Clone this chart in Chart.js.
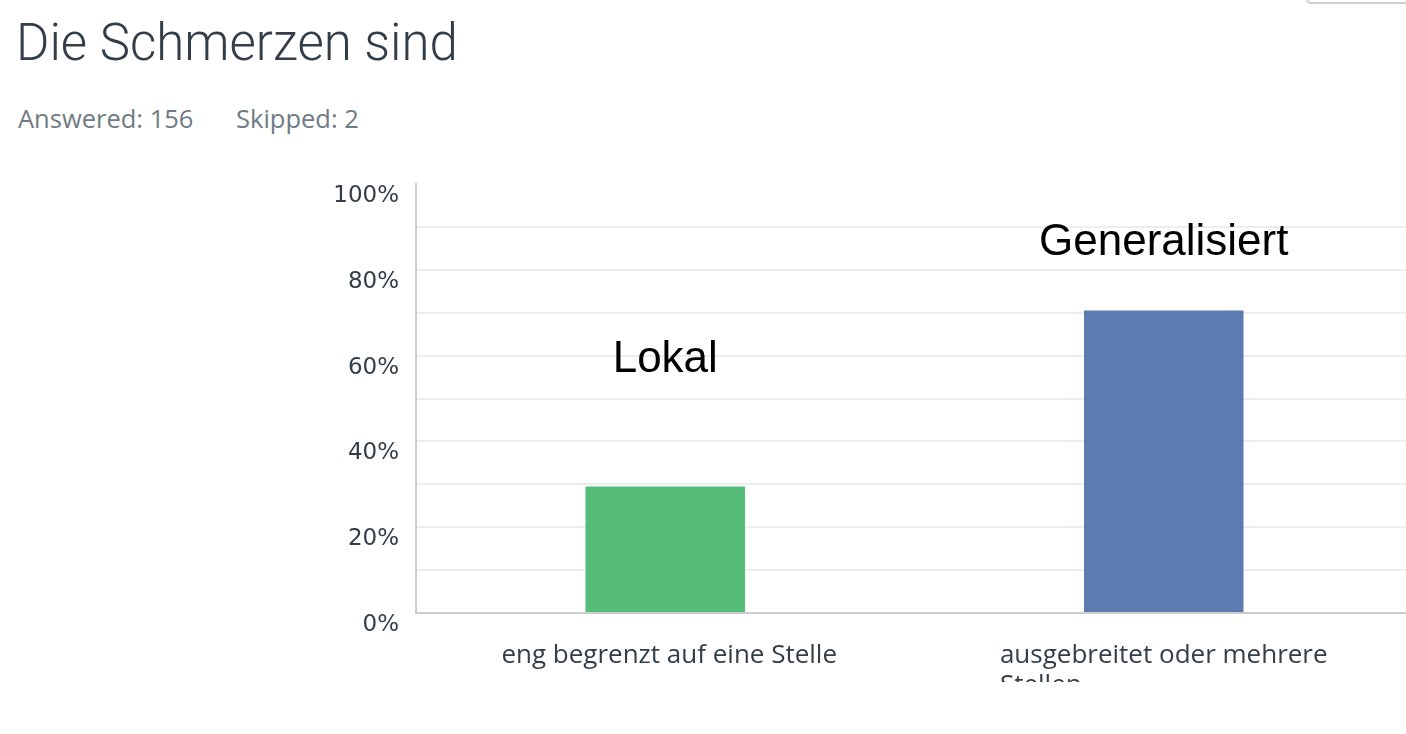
<!DOCTYPE html>
<html lang="de">
<head>
<meta charset="utf-8">
<title>Die Schmerzen sind</title>
<script src="https://cdn.jsdelivr.net/npm/chart.js@4.4.1/dist/chart.umd.min.js"></script>
<style>
  html, body { margin: 0; padding: 0; background: #fff; overflow: hidden; width: 1406px; height: 734px; }
  #title { position: absolute; left: 16px; top: 17px; font: 300 51px/51px Roboto, sans-serif; color: #333e48; white-space: nowrap; }
  .stat { position: absolute; top: 106px; font: 400 25.5px/25px "Open Sans", sans-serif; color: #6f7b83; white-space: nowrap; }
  #btn { position: absolute; left: 1306px; top: -40px; width: 120px; height: 40px; border: 2px solid #cfcfcf; border-radius: 5px; }
  #clip { position: absolute; left: 0; top: 160px; width: 1413px; height: 522px; overflow: hidden; }
  #box { position: relative; width: 1413px; height: 580px; }
</style>
</head>
<body>
<div id="btn"></div>
<div id="title">Die Schmerzen sind</div>
<span class="stat" style="left:18px">Answered: 156</span>
<span class="stat" style="left:236px">Skipped: 2</span>
<div id="clip"><div id="box"><canvas id="painChart"></canvas></div></div>

<script>
const categories = ['eng begrenzt auf eine Stelle', ['ausgebreitet oder mehrere', 'Stellen']];
const percentages = [29.49, 70.51];
const notes = ['Lokal', 'Generalisiert'];

const ctx = document.getElementById('painChart').getContext('2d');

// wrapped labels are left aligned, so shift them back by half the longest line
ctx.font = '26px "Open Sans"';
const lastLabel = [].concat(categories[categories.length - 1]);
const longestLine = Math.max(...lastLabel.map(l => ctx.measureText(l).width));

// the hand written words above the bars
const notePlugin = {
  id: 'notes',
  afterDatasetsDraw(chart, args, opts) {
    const { ctx, scales: { x, y } } = chart;
    ctx.save();
    ctx.font = '44px "Liberation Sans", Arial, sans-serif';
    ctx.fillStyle = '#000';
    ctx.textAlign = 'center';
    ctx.textBaseline = 'alphabetic';
    notes.forEach((t, i) => {
      ctx.fillText(t, x.getPixelForValue(i), y.getPixelForValue(opts.levels[i]));
    });
    ctx.restore();
  }
};

const painChart = new Chart(ctx, {
  type: 'bar',
  data: {
    labels: categories,
    datasets: [{
      data: percentages,
      backgroundColor: ['#55bd77', '#5b7bb1'],
      borderWidth: 0,
      categoryPercentage: 1,
      barPercentage: 0.32
    }]
  },
  options: {
    responsive: true,
    maintainAspectRatio: false,
    animation: false,
    layout: { padding: { top: 24, left: 0, right: 0, bottom: 0 } },
    plugins: {
      legend: { display: false },
      tooltip: { enabled: false },
      notes: { levels: [56.2, 83.4] }
    },
    scales: {
      x: {
        grid: { display: false },
        border: { color: '#cccccc', width: 2 },
        ticks: {
          align: 'start',
          labelOffset: -longestLine / 2,
          padding: 20,
          maxRotation: 0,
          autoSkip: false,
          color: '#333e48',
          font: { family: 'Open Sans', size: 26, lineHeight: 1.15 }
        },
        afterFit: scale => {
          scale.height = 127;
          scale.paddingLeft = 0;
          scale.paddingRight = 0;
        }
      },
      y: {
        min: 0,
        max: 100,
        ticks: {
          stepSize: 10,
          padding: 17,
          labelOffset: 12,
          color: '#333e48',
          font: { family: 'DejaVu Sans', size: 23 },
          callback: v => v % 20 === 0 ? v + '%' : ''
        },
        grid: {
          drawTicks: false,
          lineWidth: 2,
          color: c => (c.tick.value === 0 || c.tick.value === 100) ? 'rgba(0,0,0,0)' : '#ededed'
        },
        border: { color: '#cccccc', width: 2 },
        afterFit: scale => {
          scale.width = 416;
          scale.paddingTop = 0;
          scale.paddingBottom = 0;
        }
      }
    }
  },
  plugins: [notePlugin]
});
</script>
</body>
</html>
